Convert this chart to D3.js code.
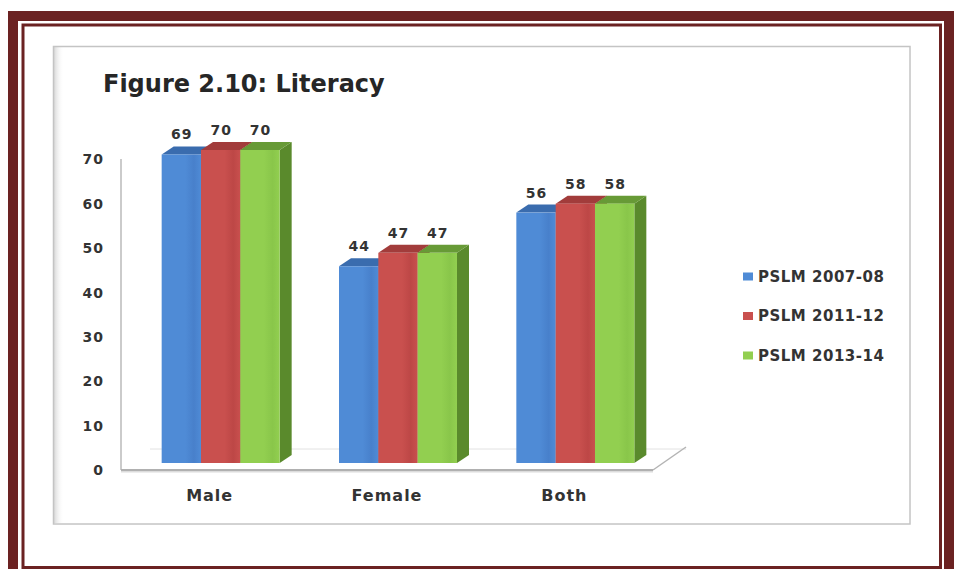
<!DOCTYPE html>
<html>
<head>
<meta charset="utf-8">
<script src="https://cdn.jsdelivr.net/npm/d3@7"></script>
<style>
  html, body { margin: 0; padding: 0; background: #ffffff; }
  svg { display: block; }
</style>
</head>
<body>
<svg id="chart" width="957" height="569"></svg>
<script>
// ---- data ----
const categories = ["Male", "Female", "Both"];
const seriesNames = ["PSLM 2007-08", "PSLM 2011-12", "PSLM 2013-14"];
const values2007 = [69, 44, 56];
const values2011 = [70, 47, 58];
const values2013 = [70, 47, 58];
const yTickValues = [0, 10, 20, 30, 40, 50, 60, 70];
const chartTitle = "Figure 2.10: Literacy";

const seriesValues = [values2007, values2011, values2013];

// ---- styles ----
const frontColors = ["#4f8bd6", "#c9504e", "#92cf50"];
const frontDark   = ["#4880cb", "#bd4746", "#89c64a"];
const topColors   = ["#3a6cae", "#a23c3b", "#679a36"];
const sideColors  = ["#335f9a", "#8f3332", "#5a8a2c"];
const maroon = "#6b2222";
const textColor = "#333333";
const FONT = "'DejaVu Sans', Verdana, sans-serif";

const svg = d3.select("#chart");

// ---- frames ----
svg.append("rect")
  .attr("x", 13).attr("y", 16).attr("width", 936).attr("height", 570)
  .attr("fill", "none").attr("stroke", maroon).attr("stroke-width", 10);
svg.append("rect")
  .attr("x", 23).attr("y", 25).attr("width", 917.5).attr("height", 542.5)
  .attr("fill", "none").attr("stroke", maroon).attr("stroke-width", 3);

// chart area with soft border
const defs = svg.append("defs");
const shadowL = defs.append("linearGradient").attr("id", "shadowL").attr("x1", 0).attr("x2", 1).attr("y1", 0).attr("y2", 0);
shadowL.append("stop").attr("offset", "0%").attr("stop-color", "#d8d8d8");
shadowL.append("stop").attr("offset", "100%").attr("stop-color", "#ffffff").attr("stop-opacity", 0);
svg.append("rect").attr("x", 54).attr("y", 47).attr("width", 10).attr("height", 476).attr("fill", "url(#shadowL)");
svg.append("rect")
  .attr("x", 53.5).attr("y", 46.5).attr("width", 856.5).attr("height", 477.5)
  .attr("fill", "none").attr("stroke", "#c4c4c4").attr("stroke-width", 1.5);

// gradients for bar fronts
seriesNames.forEach((s, i) => {
  const g = defs.append("linearGradient").attr("id", "front" + i)
    .attr("x1", 0).attr("x2", 1).attr("y1", 0).attr("y2", 0);
  g.append("stop").attr("offset", "0%").attr("stop-color", frontColors[i]);
  g.append("stop").attr("offset", "60%").attr("stop-color", frontColors[i]);
  g.append("stop").attr("offset", "82%").attr("stop-color", frontDark[i]);
  g.append("stop").attr("offset", "100%").attr("stop-color", frontColors[i]);
});

// ---- title ----
svg.append("text")
  .attr("x", 103).attr("y", 92)
  .attr("font-family", FONT).attr("font-weight", "bold").attr("font-size", 24)
  .attr("fill", "#262626")
  .text(chartTitle);

// ---- scales ----
const x = d3.scaleBand().domain(categories).range([121, 653]);
const xInner = d3.scaleBand().domain(seriesNames).range([0, 118]);
const yAxisScale = d3.scaleLinear().domain([0, 70]).range([470, 159.5]);
const yBar = d3.scaleLinear().domain([0, 70]).range([463, 150]);
const depthX = 12, depthY = 8;
const groupOffset = 11 - 59;

// ---- floor & walls ----
svg.append("line")
  .attr("x1", 150).attr("y1", 449).attr("x2", 686).attr("y2", 449)
  .attr("stroke", "#e2e2e2").attr("stroke-width", 1);
svg.append("line")
  .attr("x1", 121).attr("y1", 159).attr("x2", 121).attr("y2", 470)
  .attr("stroke", "#a8a8a8").attr("stroke-width", 1.2);
svg.append("line")
  .attr("x1", 653).attr("y1", 470).attr("x2", 686).attr("y2", 447)
  .attr("stroke", "#b4b4b4").attr("stroke-width", 1.5);
svg.append("line")
  .attr("x1", 121).attr("y1", 471.5).attr("x2", 653).attr("y2", 471.5)
  .attr("stroke", "#dcdcdc").attr("stroke-width", 2);
svg.append("line")
  .attr("x1", 121).attr("y1", 470).attr("x2", 653).attr("y2", 470)
  .attr("stroke", "#b0b0b0").attr("stroke-width", 2);

// ---- y axis ----
const yAxis = d3.axisLeft(yAxisScale).tickValues(yTickValues).tickSize(0).tickPadding(17);
const yG = svg.append("g").attr("transform", "translate(121,0)").call(yAxis);
yG.select(".domain").remove();
yG.selectAll("text")
  .attr("font-family", FONT).attr("font-weight", "bold").attr("font-size", 14)
  .attr("letter-spacing", 1).attr("fill", textColor);

// ---- x axis labels ----
const xAxis = d3.axisBottom(x).tickSize(0).tickPadding(20);
const xG = svg.append("g").attr("transform", "translate(0,470)").call(xAxis);
xG.select(".domain").remove();
xG.selectAll("text")
  .attr("font-family", FONT).attr("font-weight", "bold").attr("font-size", 16)
  .attr("letter-spacing", 1).attr("fill", textColor);

// ---- bars ----
const groups = svg.append("g").selectAll("g")
  .data(categories)
  .join("g")
  .attr("transform", c => `translate(${x(c) + x.bandwidth() / 2 + groupOffset},0)`);

groups.each(function (cat, ci) {
  const g = d3.select(this);
  seriesNames.forEach((s, si) => {
    const v = seriesValues[si][ci];
    const x0 = xInner(s), w = xInner.bandwidth();
    const yt = yBar(v), yb = yBar(0);
    g.append("path")
      .attr("d", `M${x0 + w},${yt} L${x0 + w + depthX},${yt - depthY} L${x0 + w + depthX},${yb - depthY} L${x0 + w},${yb} Z`)
      .attr("fill", sideColors[si]);
    g.append("path")
      .attr("d", `M${x0},${yt} L${x0 + depthX},${yt - depthY} L${x0 + w + depthX},${yt - depthY} L${x0 + w},${yt} Z`)
      .attr("fill", topColors[si]);
    g.append("rect")
      .attr("x", x0).attr("y", yt).attr("width", w).attr("height", yb - yt)
      .attr("fill", `url(#front${si})`);
  });
  seriesNames.forEach((s, si) => {
    const v = seriesValues[si][ci];
    g.append("text")
      .attr("x", xInner(s) + xInner.bandwidth() / 2 + 0.5)
      .attr("y", yBar(v) - 15)
      .attr("text-anchor", "middle")
      .attr("font-family", FONT).attr("font-weight", "bold").attr("font-size", 14)
      .attr("letter-spacing", 1).attr("fill", textColor)
      .text(v);
  });
});

// ---- legend ----
const legendY = d3.scalePoint().domain(seriesNames).range([281.5, 360.5]);
const legend = svg.append("g").selectAll("g")
  .data(seriesNames)
  .join("g")
  .attr("transform", s => `translate(743,${legendY(s)})`);
legend.append("rect")
  .attr("x", 0).attr("y", -9).attr("width", 10).attr("height", 8)
  .attr("fill", (s, i) => frontColors[i]);
legend.append("text")
  .attr("x", 15).attr("y", 0)
  .attr("font-family", FONT).attr("font-weight", "bold").attr("font-size", 15)
  .attr("letter-spacing", 0.5).attr("fill", textColor)
  .text(s => s);
</script>
</body>
</html>
